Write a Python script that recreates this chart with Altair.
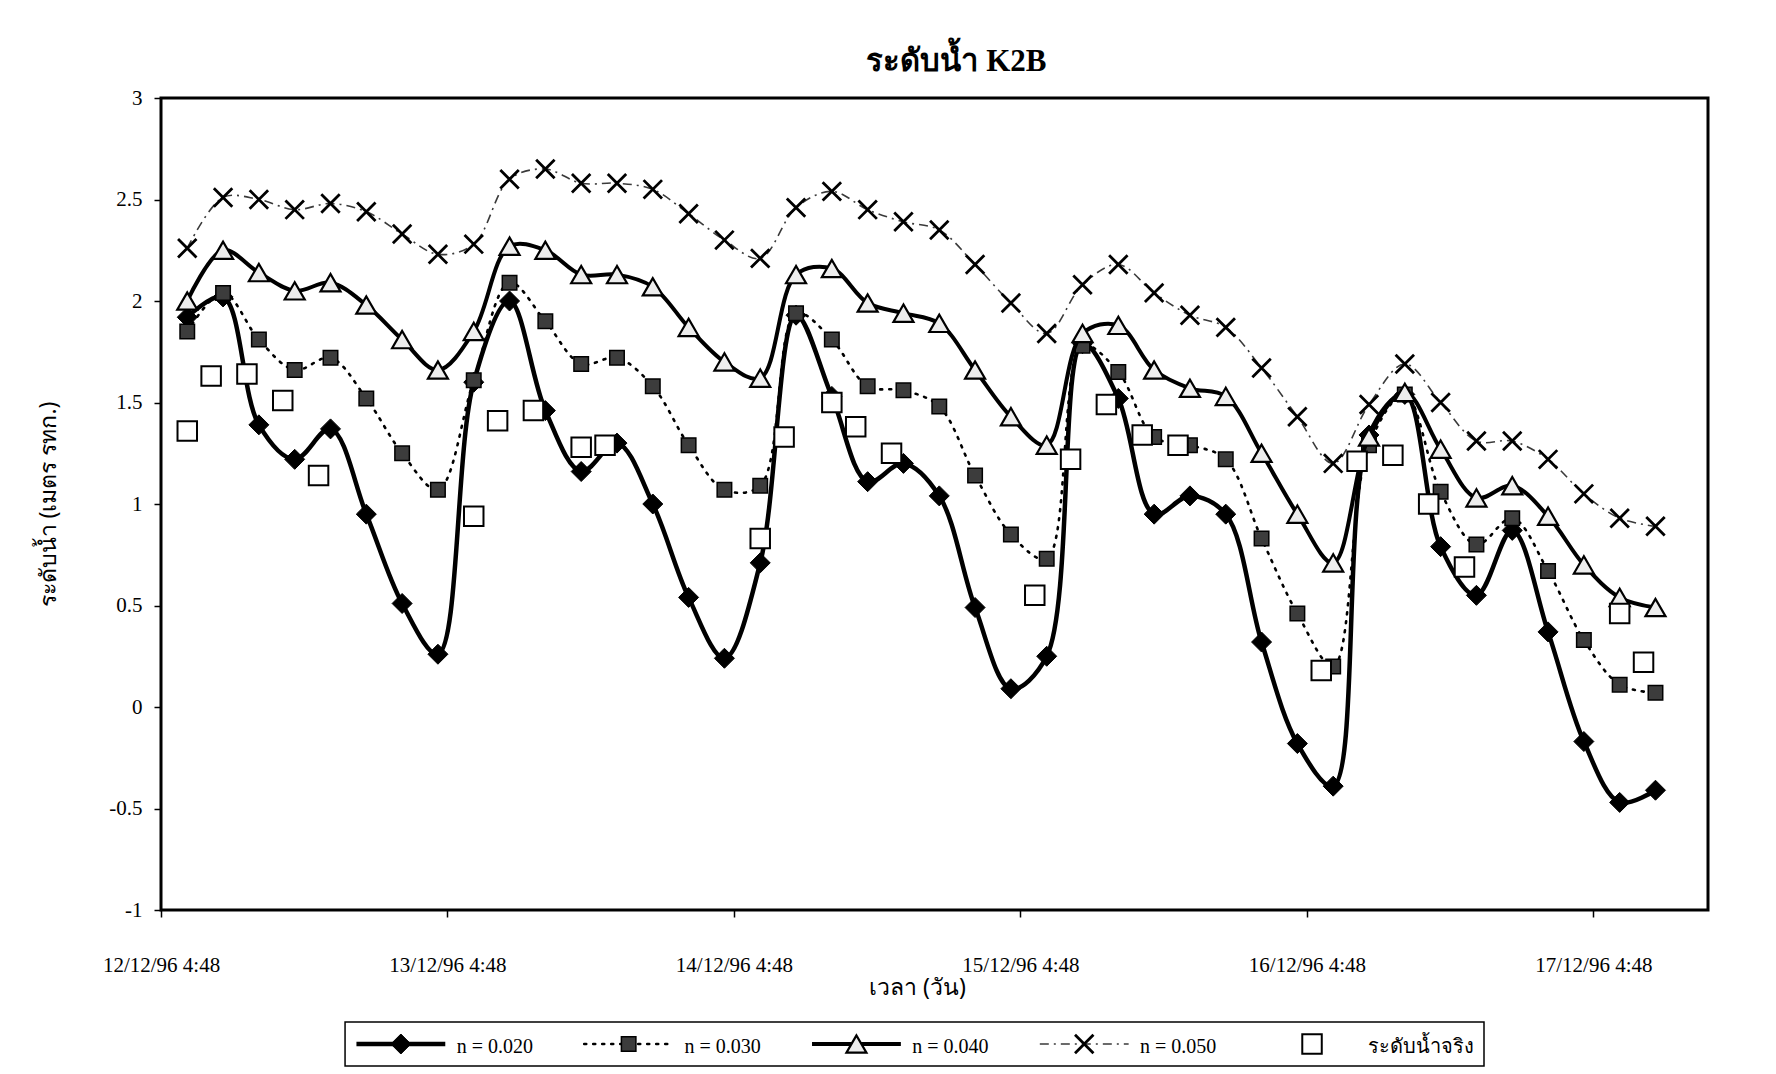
import altair as alt
import pandas as pd

# ---------------- data ----------------
model_times = [
    "1996-12-12T07:00:00", "1996-12-12T10:00:00", "1996-12-12T13:00:00", "1996-12-12T16:00:00",
    "1996-12-12T19:00:00", "1996-12-12T22:00:00",
    "1996-12-13T01:00:00", "1996-12-13T04:00:00", "1996-12-13T07:00:00", "1996-12-13T10:00:00",
    "1996-12-13T13:00:00", "1996-12-13T16:00:00", "1996-12-13T19:00:00", "1996-12-13T22:00:00",
    "1996-12-14T01:00:00", "1996-12-14T04:00:00", "1996-12-14T07:00:00", "1996-12-14T10:00:00",
    "1996-12-14T13:00:00", "1996-12-14T16:00:00", "1996-12-14T19:00:00", "1996-12-14T22:00:00",
    "1996-12-15T01:00:00", "1996-12-15T04:00:00", "1996-12-15T07:00:00", "1996-12-15T10:00:00",
    "1996-12-15T13:00:00", "1996-12-15T16:00:00", "1996-12-15T19:00:00", "1996-12-15T22:00:00",
    "1996-12-16T01:00:00", "1996-12-16T04:00:00", "1996-12-16T07:00:00", "1996-12-16T10:00:00",
    "1996-12-16T13:00:00", "1996-12-16T16:00:00", "1996-12-16T19:00:00", "1996-12-16T22:00:00",
    "1996-12-17T01:00:00", "1996-12-17T04:00:00", "1996-12-17T07:00:00", "1996-12-17T10:00:00",
]
n020 = [1.92, 2.02, 1.39, 1.22, 1.37, 0.95, 0.51, 0.26, 1.60, 2.00, 1.46, 1.16, 1.30, 1.00,
        0.54, 0.24, 0.71, 1.93, 1.53, 1.11, 1.20, 1.04, 0.49, 0.09, 0.25, 1.79, 1.52, 0.95,
        1.04, 0.95, 0.32, -0.18, -0.39, 1.34, 1.54, 0.79, 0.55, 0.87, 0.37, -0.17, -0.47, -0.41]
n030 = [1.85, 2.04, 1.81, 1.66, 1.72, 1.52, 1.25, 1.07, 1.61, 2.09, 1.90, 1.69, 1.72, 1.58,
        1.29, 1.07, 1.09, 1.94, 1.81, 1.58, 1.56, 1.48, 1.14, 0.85, 0.73, 1.78, 1.65, 1.33,
        1.29, 1.22, 0.83, 0.46, 0.20, 1.29, 1.54, 1.06, 0.80, 0.93, 0.67, 0.33, 0.11, 0.07]
n040 = [2.00, 2.25, 2.14, 2.05, 2.09, 1.98, 1.81, 1.66, 1.85, 2.27, 2.25, 2.13, 2.13, 2.07,
        1.87, 1.70, 1.62, 2.13, 2.16, 1.99, 1.94, 1.89, 1.66, 1.43, 1.29, 1.84, 1.88, 1.66,
        1.57, 1.53, 1.25, 0.95, 0.71, 1.33, 1.55, 1.27, 1.03, 1.09, 0.94, 0.70, 0.54, 0.49]
n050 = [2.26, 2.51, 2.50, 2.45, 2.48, 2.44, 2.33, 2.23, 2.28, 2.60, 2.65, 2.58, 2.58, 2.55,
        2.43, 2.30, 2.21, 2.46, 2.54, 2.45, 2.39, 2.35, 2.18, 1.99, 1.84, 2.08, 2.18, 2.04,
        1.93, 1.87, 1.67, 1.43, 1.20, 1.49, 1.69, 1.50, 1.31, 1.31, 1.22, 1.05, 0.93, 0.89]

obs_times = [
    "1996-12-12T07:00:00", "1996-12-12T09:00:00", "1996-12-12T12:00:00", "1996-12-12T15:00:00", "1996-12-12T18:00:00",
    "1996-12-13T07:00:00", "1996-12-13T09:00:00", "1996-12-13T12:00:00", "1996-12-13T16:00:00", "1996-12-13T18:00:00",
    "1996-12-14T07:00:00", "1996-12-14T09:00:00", "1996-12-14T13:00:00", "1996-12-14T15:00:00", "1996-12-14T18:00:00",
    "1996-12-15T06:00:00", "1996-12-15T09:00:00", "1996-12-15T12:00:00", "1996-12-15T15:00:00", "1996-12-15T18:00:00",
    "1996-12-16T06:00:00", "1996-12-16T09:00:00", "1996-12-16T12:00:00", "1996-12-16T15:00:00", "1996-12-16T18:00:00",
    "1996-12-17T07:00:00", "1996-12-17T09:00:00",
]
obs_vals = [1.36, 1.63, 1.64, 1.51, 1.14, 0.94, 1.41, 1.46, 1.28, 1.29, 0.83, 1.33, 1.50, 1.38,
            1.25, 0.55, 1.22, 1.49, 1.34, 1.29, 0.18, 1.21, 1.24, 1.00, 0.69, 0.46, 0.22]

series_names = ["n = 0.020", "n = 0.030", "n = 0.040", "n = 0.050"]
obs_name = "ระดับน้ำจริง"
title_text = "ระดับน้ำ K2B"
y_title = "ระดับน้ำ (เมตร รทก.)"
x_title = "เวลา (วัน)"
tick_days = [12, 13, 14, 15, 16, 17]
y_ticks = [-1, -0.5, 0, 0.5, 1, 1.5, 2, 2.5, 3]

# ---------------- styles ----------------
SERIF = "Liberation Serif"
X_PATH = "M-1,-1L1,1M-1,1L1,-1"

line_styles = [
    dict(strokeWidth=4.5, color="black"),
    dict(strokeWidth=2.6, color="black", strokeDash=[2, 7], strokeCap="round"),
    dict(strokeWidth=4.0, color="black"),
    dict(strokeWidth=1.6, color="#3a3a3a", strokeDash=[9, 5, 2, 5]),
]
point_styles = [
    dict(shape="diamond", size=400, filled=True, fill="black", stroke="black", strokeWidth=1, opacity=1),
    dict(shape="square", size=210, filled=True, fill="#3c3c3c", stroke="black", strokeWidth=1.5, opacity=1),
    dict(shape="triangle-up", size=400, filled=True, fill="#ededed", stroke="black", strokeWidth=2.2, opacity=1),
    dict(shape=X_PATH, size=340, filled=False, stroke="black", strokeWidth=2.8, opacity=1),
]
obs_style = dict(shape="square", size=380, filled=True, fill="white", stroke="black", strokeWidth=2, opacity=1)

# ---------------- main chart ----------------
x_scale = alt.Scale(domain=[alt.DateTime(year=1996, month=12, date=12, hours=4, minutes=48),
                            alt.DateTime(year=1996, month=12, date=17, hours=14, minutes=24)])
x_axis = alt.Axis(
    values=[alt.DateTime(year=1996, month=12, date=d, hours=4, minutes=48) for d in tick_days],
    format="%d/%m/%y %-H:%M", title=x_title, grid=False, domain=False,
    labelFont=SERIF, labelFontSize=21, labelColor="black", labelPadding=37,
    labelFlush=False, labelOverlap=False, labelBound=False,
    tickColor="black", tickSize=7, tickWidth=1.5,
    titleFont="Noto Sans", titleFontSize=23, titleFontWeight="normal", titleColor="black",
    titlePadding=1, titleX=756,
)
y_scale = alt.Scale(domain=[-1, 3], nice=False, zero=False)
y_axis = alt.Axis(
    values=y_ticks, labelExpr="'' + datum.value", title=y_title, grid=False, domain=False,
    labelFont=SERIF, labelFontSize=21, labelColor="black", labelPadding=12,
    tickColor="black", tickSize=7, tickWidth=1.5,
    titleFont="Noto Sans", titleFontSize=23, titleFontWeight="normal", titleColor="black",
    titlePadding=48,
)

layers = []
for i, (name, vals) in enumerate(zip(series_names, [n020, n030, n040, n050])):
    df = pd.DataFrame({"time": model_times, "value": vals, "series": name})
    base = alt.Chart(df).encode(
        x=alt.X("time:T", scale=x_scale, axis=x_axis),
        y=alt.Y("value:Q", scale=y_scale, axis=y_axis),
    )
    layers.append(base.mark_line(interpolate="catmull-rom", **line_styles[i]))
    layers.append(base.mark_point(**point_styles[i]))

obs_df = pd.DataFrame({"time": obs_times, "value": obs_vals, "series": obs_name})
layers.append(alt.Chart(obs_df).mark_point(**obs_style).encode(
    x=alt.X("time:T", scale=x_scale, axis=x_axis),
    y=alt.Y("value:Q", scale=y_scale, axis=y_axis),
))

main = alt.layer(*layers).properties(
    width=1547, height=812,
    title=alt.TitleParams(title_text, font=SERIF, fontSize=31, fontWeight="bold", color="black",
                          anchor="middle", frame="group", dx=22, offset=9),
    view=alt.ViewBackground(stroke="black", strokeWidth=3, fill="white"),
)

# ---------------- legend (own small chart) ----------------
legend_names = series_names + [obs_name]
lx = alt.Scale(domain=[-0.808, 5], nice=False, zero=False)
LH = 44
legend_layers = [
    alt.Chart(pd.DataFrame({"a": [0.0], "b": [float(len(legend_names))]}))
    .mark_rect(fill="white", stroke="black", strokeWidth=1.5)
    .encode(x=alt.X("a:Q", scale=lx, axis=None), x2="b:Q", y=alt.value(0), y2=alt.value(LH))
]
for i, name in enumerate(legend_names):
    if i < len(series_names):
        legend_layers.append(
            alt.Chart(pd.DataFrame({"a": [i + 0.05], "b": [i + 0.44]}))
            .mark_rule(**line_styles[i])
            .encode(x=alt.X("a:Q", scale=lx, axis=None), x2="b:Q", y=alt.value(LH / 2))
        )
        pst = point_styles[i]
    else:
        pst = obs_style
    legend_layers.append(
        alt.Chart(pd.DataFrame({"a": [i + 0.245]}))
        .mark_point(**pst)
        .encode(x=alt.X("a:Q", scale=lx, axis=None), y=alt.value(LH / 2))
    )
    legend_layers.append(
        alt.Chart(pd.DataFrame({"a": [i + 0.49], "label": [name]}))
        .mark_text(align="left", baseline="middle", font=SERIF, fontSize=20, color="black", dy=3)
        .encode(x=alt.X("a:Q", scale=lx, axis=None), y=alt.value(LH / 2), text="label:N")
    )

legend = alt.layer(*legend_layers).properties(
    width=1323, height=LH, view=alt.ViewBackground(stroke=None)
)

chart = alt.vconcat(main, legend, spacing=20).configure(
    background="white",
    padding={"left": 36, "top": 44, "right": 5, "bottom": 5},
).configure_view(stroke=None)

chart.save("out.html", embed_options={"renderer": "svg", "actions": False})
